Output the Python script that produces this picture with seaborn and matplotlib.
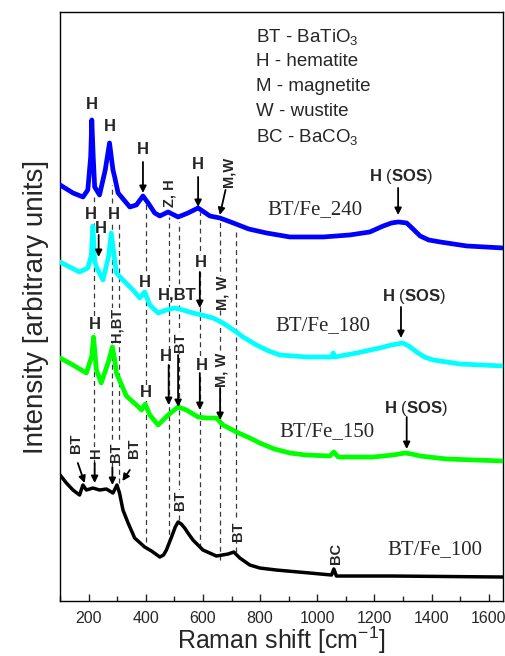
import numpy as np
import pandas as pd
import matplotlib
matplotlib.use("Agg")
import matplotlib.pyplot as plt
import seaborn as sns

# ---------------- data (Raman shift in cm^-1, intensity in arbitrary units) ----------------
x_240 = [100, 145, 180, 197, 207, 211, 216, 221, 238, 258, 273, 285, 291, 303, 344, 367, 390,
         408, 431, 449, 478, 513, 548, 583, 624, 659, 706, 760, 822, 904, 1021, 1114, 1184,
         1231, 1260, 1284, 1313, 1335, 1360, 1390, 1430, 1523, 1650]
y_240 = [416, 408, 404, 411, 444, 481, 444, 414, 406, 431, 458, 431, 424, 408, 394, 396, 405,
         398, 388, 385, 389, 384, 388, 393, 385, 383, 378, 372, 368, 364, 364, 366, 369,
         375, 378, 379, 378, 372, 365, 361, 359, 355, 353]

x_180 = [100, 133, 168, 197, 209, 215, 221, 227, 250, 270, 279, 291, 297, 320, 355, 379, 396,
         414, 443, 472, 501, 530, 565, 595, 635, 670, 717, 740, 787, 830, 869, 963, 1050, 1056,
         1062, 1138, 1219, 1260, 1299, 1320, 1348, 1375, 1406, 1500, 1650]
y_180 = [339, 334, 329, 333, 345, 375, 340, 334, 321, 345, 368, 341, 328, 321, 311, 303, 309,
         296, 288, 291, 293, 291, 288, 286, 283, 278, 269, 264, 256, 250, 246, 244, 244, 248,
         244, 248, 253, 256, 258, 255, 249, 244, 241, 237, 235]

x_150 = [100, 145, 192, 211, 217, 223, 227, 244, 270, 283, 292, 297, 332, 367, 385, 398, 414,
         443, 478, 513, 542, 583, 612, 647, 670, 717, 764, 799, 850, 904, 960, 1044, 1058, 1073,
         1196, 1266, 1307, 1330, 1360, 1453, 1650]
y_150 = [243, 236, 228, 245, 264, 245, 231, 218, 240, 254, 240, 228, 205, 196, 191, 197, 186,
         176, 186, 194, 191, 184, 183, 183, 176, 169, 163, 158, 152, 148, 146, 145, 149, 144,
         144, 146, 148, 147, 145, 142, 140]

x_100 = [100, 122, 145, 168, 180, 192, 215, 238, 262, 285, 299, 308, 320, 338, 361, 396, 420,
         449, 462, 472, 490, 503, 513, 524, 536, 550, 565, 600, 647, 688, 708, 729, 764, 799,
         857, 974, 1050, 1058, 1067, 1266, 1650]
y_100 = [126, 118, 111, 106, 116, 111, 113, 111, 112, 108, 116, 108, 91, 78, 63, 54, 50,
         44, 46, 51, 64, 74, 79, 77, 73, 67, 61, 51, 45, 47, 49, 43, 36, 33,
         31, 28, 26, 32, 25, 25, 24]

samples = ["BT/Fe_240", "BT/Fe_180", "BT/Fe_150", "BT/Fe_100"]
colors = ["#0000FF", "#00FFFF", "#00FF00", "#000000"]

# reference (dashed) lines: position, bottom, top
ref_x = [217, 280, 306, 400, 482, 515, 590, 660, 715]
ref_bottom = [128, 118, 118, 59, 58, 81, 53, 41, 49]
ref_top = [404, 416, 378, 398, 384, 379, 389, 381, 369]

# phase legend text
legend_lines = ["BT - BaTiO$_3$", "H - hematite", "M - magnetite", "W - wustite", "BC - BaCO$_3$"]

# peak labels: (x, y, text, rotation)
peak_labels = [
    (211, 496, "H", 0), (273, 474, "H", 0), (390, 451, "H", 0), (484, 408, "Z, H", 90),
    (583, 436, "H", 0), (688, 429, "M,W", 90),
    (209, 386, "H", 0), (244, 372, "H", 0), (288, 386, "H", 0), (396, 318, "H", 0),
    (509, 306, "H,BT", 0), (591, 338, "H", 0), (668, 308, "M, W", 90),
    (221, 276, "H", 0), (297, 276, "H,BT", 90), (470, 244, "H", 0), (519, 259, "BT", 90),
    (595, 235, "H", 0), (665, 231, "M, W", 90), (400, 208, "H", 0),
    (157, 158, "BT", 90), (227, 148, "H", 90), (297, 149, "BT", 90), (357, 153, "BT", 90),
    (521, 101, "BT", 90), (723, 70, "BT", 90), (1065, 48, "BC", 90),
]
# arrows: (x_tail, y_tail, x_head, y_head)
arrows = [
    (390, 439, 390, 408), (583, 424, 583, 394), (679, 411, 659, 386), (1283, 413, 1283, 386),
    (235, 366, 235, 344), (589, 329, 589, 293), (1293, 294, 1293, 263),
    (480, 236, 480, 196), (513, 246, 513, 194), (589, 228, 589, 191), (660, 213, 660, 181),
    (1313, 184, 1313, 152),
    (162, 138, 186, 118), (221, 138, 221, 118), (283, 134, 283, 116), (344, 131, 318, 120),
]
# "H (SOS)" labels: (x, y)
sos_labels = [(1294, 424), (1339, 304), (1346, 192)]
# sample labels: (x_left, y)
sample_pos = [(827, 391), (852, 275), (869, 169), (1244, 51)]

# ---------------- style ----------------
sns.set_style("ticks")
plt.rcParams['font.family'] = ['Liberation Sans', 'DejaVu Sans']
plt.rcParams['mathtext.fontset'] = 'custom'
plt.rcParams['mathtext.rm'] = 'Liberation Sans'
plt.rcParams['mathtext.it'] = 'Liberation Sans:italic'
plt.rcParams['mathtext.bf'] = 'Liberation Sans:bold'
plt.rcParams['mathtext.default'] = 'regular'

fig = plt.figure(figsize=(5.05, 6.56), dpi=100)
ax = fig.add_axes([0.119, 0.0838, 0.877, 0.898])

series = [(x_240, y_240), (x_180, y_180), (x_150, y_150), (x_100, y_100)]
frames = []
for name, (xs, ys) in zip(samples, series):
    frames.append(pd.DataFrame({"shift": xs, "intensity": ys, "sample": name}))
df = pd.concat(frames, ignore_index=True)

for name, col in zip(samples, colors):
    sub = df[df["sample"] == name]
    sns.lineplot(data=sub, x="shift", y="intensity", color=col, sort=False, estimator=None,
                 linewidth=2.5 if col == "#000000" else 3.4, ax=ax, zorder=3, legend=False)

ax.vlines(ref_x, ref_bottom, ref_top, colors="#3a3a3a", linestyles=(0, (4, 3)),
          linewidth=0.9, zorder=1)

bbox = dict(boxstyle="square,pad=0.02", fc="white", ec="none")
for x, y, t, r in peak_labels:
    ax.text(x, y, t, rotation=r, ha="center", va="center", fontweight="bold",
            fontsize=12 if r == 0 else 10.5, zorder=2.5, bbox=bbox)

for xt, yt, xh, yh in arrows:
    ax.annotate("", xy=(xh, yh), xytext=(xt, yt),
                arrowprops=dict(arrowstyle="-|>", color="black", lw=1.3, shrinkA=0, shrinkB=0,
                                mutation_scale=10), zorder=4)

for x, y in sos_labels:
    ax.text(x, y, r"$\mathbf{H}$ ($\mathbf{SOS}$)", ha="center", va="center", fontsize=12)

for (x, y), name in zip(sample_pos, samples):
    ax.text(x, y, name, ha="left", va="center", fontsize=15,
            family=["Liberation Serif", "DejaVu Serif"])

for i, t in enumerate(legend_lines):
    ax.text(785, 564 - 25 * i, t, ha="left", va="center", fontsize=13.5)

ax.set_xlim(100, 1650)
ax.set_ylim(0, 589)
ax.set_xticks([200, 400, 600, 800, 1000, 1200, 1400, 1600])
ax.set_xticks(np.arange(100, 1650, 100), minor=True)
ax.set_yticks([])
ax.tick_params(axis="x", which="major", direction="in", length=5, width=1, labelsize=11.5, pad=7)
ax.tick_params(axis="x", which="minor", direction="in", length=3.5, width=1)
for sp in ax.spines.values():
    sp.set_visible(True)
    sp.set_linewidth(1.0)
    sp.set_color("black")
ax.set_xlabel("Raman shift [cm$^{-1}$]", fontsize=18, labelpad=-1)
ax.set_ylabel("Intensity [arbitrary units]", fontsize=20, labelpad=8)

fig.savefig("out.png", dpi=100)
